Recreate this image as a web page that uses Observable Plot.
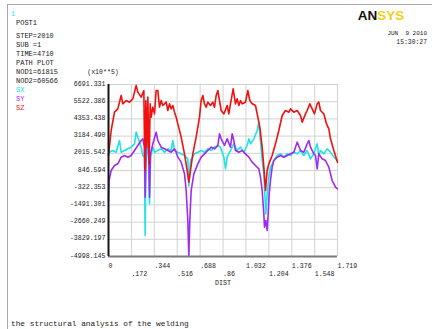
<!DOCTYPE html>
<html>
<head>
<meta charset="utf-8">
<script src="https://cdn.jsdelivr.net/npm/d3@7"></script>
<script src="https://cdn.jsdelivr.net/npm/@observablehq/plot@0.6"></script>
<style>
  html, body { margin: 0; padding: 0; background: #fff; }
  svg text { white-space: pre; }
</style>
</head>
<body>
<div id="chart"></div>
<script>
// Path plot of stresses along the weld path (DIST), in units of 10**5
const xTickLabels = ["0", ".172", ".344", ".516", ".688", ".86", "1.032", "1.204", "1.376", "1.548", "1.719"];
const yTickLabels = ["6691.331", "5522.386", "4353.438", "3184.490", "2015.542", "846.594",
  "-322.353", "-1491.301", "-2660.249", "-3829.197", "-4998.145"];

const infoLines = ["STEP=2010", "SUB =1", "TIME=4710", "PATH PLOT", "NOD1=61815", "NOD2=60566"];
const seriesNames = ["SX", "SY", "SZ"];
const seriesColors = ["#1ee3e6", "#9b2cf2", "#f01010"];

// [DIST, stress] pairs
const SX = [[0,2206],[0.0075,2092],[0.0325,2206],[0.0575,2092],[0.0826,2885],[0.0951,2092],[0.1201,2206],
  [0.1451,2319],[0.1702,2432],[0.1952,2659],[0.2077,3452],[0.2202,3112],[0.2327,2772],[0.2452,2432],
  [0.2577,1866],[0.2702,1753],[0.2752,-3571],[0.2803,1300],[0.2903,2432],[0.3003,1979],[0.3078,-1419],
  [0.3153,1753],[0.3328,2432],[0.3453,2092],[0.3703,2206],[0.3953,2319],[0.4204,2092],[0.4454,2319],
  [0.4704,2206],[0.4829,2885],[0.4954,2206],[0.5205,2092],[0.5455,1979],[0.5705,1866],[0.5955,1639],
  [0.6030,-200],[0.6155,1526],[0.6456,1979],[0.6706,2092],[0.6956,2206],[0.7206,2092],[0.7457,2319],
  [0.7707,2206],[0.7957,2432],[0.8207,2546],[0.8407,2432],[0.8658,1753],[0.8783,960],[0.8908,1753],
  [0.9158,2206],[0.9408,2659],[0.9659,2206],[0.9909,2432],[1.0159,2092],[1.0409,2546],[1.0534,2999],
  [1.0659,2659],[1.0910,2999],[1.1160,3565],[1.1285,4131],[1.1360,3338],[1.1535,1526],[1.1660,620],
  [1.1735,-740],[1.1810,-2099],[1.1911,-740],[1.2036,393],[1.2161,1073],[1.2411,1526],[1.2661,1866],
  [1.2911,1979],[1.3162,1753],[1.3412,1979],[1.3662,1866],[1.3912,2092],[1.4162,1979],[1.4413,2206],
  [1.4663,1866],[1.4913,2206],[1.5163,1639],[1.5413,1979],[1.5663,2659],[1.5789,1866],[1.5914,2206],
  [1.6164,1979],[1.6414,2319],[1.6664,2092],[1.6915,1753],[1.719,1526]];

const SY = [[0,-1192],[0.004,167],[0.0200,846],[0.0450,1186],[0.0701,1300],[0.0951,1753],[0.1201,1866],
  [0.1451,1753],[0.1702,1866],[0.1952,2206],[0.2202,2546],[0.2452,2885],[0.2577,2999],[0.2702,2432],
  [0.2752,-966],[0.2828,2659],[0.2953,3338],[0.3028,1526],[0.3078,-966],[0.3153,1979],[0.3328,2659],
  [0.3578,3452],[0.3703,2885],[0.3953,2432],[0.4204,2319],[0.4454,2206],[0.4704,2092],[0.4954,2319],
  [0.5079,2092],[0.5205,1753],[0.5455,1413],[0.5705,620],[0.5830,-513],[0.5955,-2552],[0.6030,-4998],
  [0.6105,-2552],[0.6205,-513],[0.6406,620],[0.6706,1300],[0.6956,1753],[0.7206,1979],[0.7457,2206],
  [0.7707,2432],[0.7957,2319],[0.8207,2546],[0.8332,3338],[0.8457,2999],[0.8707,2546],[0.8908,2999],
  [0.9158,2432],[0.9283,3338],[0.9408,2885],[0.9533,2206],[0.9784,2092],[1.0034,2206],[1.0284,1979],
  [1.0534,1753],[1.0785,1413],[1.1035,1186],[1.1285,960],[1.1410,393],[1.1535,-513],[1.1660,-2099],
  [1.1710,-3005],[1.1810,-2552],[1.1911,-3231],[1.1986,-2099],[1.2061,-740],[1.2161,167],[1.2286,1073],
  [1.2411,1526],[1.2661,1753],[1.2911,1866],[1.3162,1753],[1.3412,1866],[1.3662,1979],[1.3912,2092],
  [1.4162,2772],[1.4413,2206],[1.4663,2092],[1.4913,2659],[1.5038,2885],[1.5163,2432],[1.5413,1979],
  [1.5538,1866],[1.5663,960],[1.5789,1979],[1.6039,1639],[1.6289,1526],[1.6539,1073],[1.6789,167],
  [1.7040,-286],[1.719,-400]];

const SZ = [[0,1866],[0.0200,3565],[0.0450,4811],[0.0701,5037],[0.0951,5944],[0.1076,5377],[0.1326,5604],
  [0.1576,5491],[0.1827,5717],[0.2077,6623],[0.2202,6170],[0.2452,5831],[0.2652,6284],[0.2727,846],
  [0.2803,5604],[0.2878,2432],[0.2953,5831],[0.3053,1300],[0.3128,5377],[0.3203,4471],[0.3328,5151],
  [0.3453,4698],[0.3578,6284],[0.3703,6284],[0.3828,5151],[0.3953,5604],[0.4079,5264],[0.4204,5377],
  [0.4329,5491],[0.4454,4924],[0.4579,5377],[0.4704,5037],[0.4829,5264],[0.4954,4811],[0.5079,4471],
  [0.5205,4018],[0.5455,3112],[0.5705,1979],[0.5905,846],[0.6030,53],[0.6155,846],[0.6331,1979],
  [0.6581,3112],[0.6831,4471],[0.6956,5604],[0.7081,5944],[0.7206,5377],[0.7331,5151],[0.7457,5491],
  [0.7657,5264],[0.7832,5491],[0.7957,5151],[0.8082,5944],[0.8207,6284],[0.8332,5604],[0.8457,4924],
  [0.8658,4698],[0.8908,5264],[0.9033,4698],[0.9158,5377],[0.9358,6397],[0.9533,5377],[0.9659,5717],
  [0.9784,5264],[0.9909,5604],[1.0034,5377],[1.0284,5491],[1.0459,6284],[1.0609,5604],[1.0785,5377],
  [1.1035,5264],[1.1160,4698],[1.1360,3792],[1.1535,2432],[1.1660,1073],[1.1785,-513],[1.1911,846],
  [1.2036,1300],[1.2286,1866],[1.2536,2659],[1.2786,3565],[1.3037,4584],[1.3287,4924],[1.3537,4811],
  [1.3662,5037],[1.3912,4811],[1.4162,4924],[1.4413,4584],[1.4538,4131],[1.4788,4698],[1.4913,4924],
  [1.5113,5377],[1.5288,5037],[1.5463,4698],[1.5663,5377],[1.5789,5491],[1.5914,4924],[1.6164,4698],
  [1.6364,4018],[1.6539,3678],[1.6664,3000],[1.6915,2206],[1.719,1413]];

const xTicks = xTickLabels.map(Number);
const yTicks = yTickLabels.map(Number);
const yMin = yTicks[yTicks.length - 1];
const font = "Liberation Mono, DejaVu Sans Mono, monospace";
const ink = "#222";
const lineOpts = (color) => ({x: d => d[0], y: d => d[1], stroke: color, strokeWidth: 1.6, strokeLinejoin: "round"});

const chart = Plot.plot({
  width: 432,
  height: 329,
  marginLeft: 108,
  marginRight: 95,
  marginTop: 84,
  marginBottom: 73,
  x: {domain: [0, 1.719], axis: null},
  y: {domain: [yMin, yTicks[0]], axis: null},
  style: {fontFamily: font, background: "#fff", color: ink},
  marks: [
    Plot.ruleX(xTicks, {stroke: "#d2d2d2", strokeWidth: 1}),
    Plot.ruleY(yTicks, {stroke: "#d2d2d2", strokeWidth: 1}),
    Plot.line(SX, lineOpts(seriesColors[0])),
    Plot.line(SY, lineOpts(seriesColors[1])),
    Plot.line(SZ, lineOpts(seriesColors[2])),
    Plot.ruleY([yMin], {stroke: "#7a7a7a", strokeWidth: 2}),
    Plot.ruleX([0], {stroke: "#151515", strokeWidth: 2}),
    Plot.text(yTickLabels, {x: 0, y: d => +d, text: d => d, textAnchor: "end", dx: -3, dy: -1,
      fontSize: 6.6, fill: ink}),
    Plot.text(xTickLabels.filter((_, i) => i % 2 === 0), {x: d => +d, y: yMin, text: d => d,
      textAnchor: "start", dx: 0, dy: 9, fontSize: 6.6, fill: ink}),
    Plot.text(xTickLabels.filter((_, i) => i % 2 === 1), {x: d => +d, y: yMin, text: d => d,
      textAnchor: "start", dx: 0, dy: 17.7, fontSize: 6.6, fill: ink}),
    Plot.text(["DIST"], {x: 1.719 / 2, y: yMin, text: d => d, dy: 26.3, fontSize: 6.6, fill: ink})
  ]
});

document.getElementById("chart").appendChild(chart);

// Annotation layer: window frame, info block, legend, logo, date and title
const svg = d3.select(chart);
svg.append("line").attr("x1", 7.5).attr("x2", 7.5).attr("y1", 4).attr("y2", 329)
  .attr("stroke", "#a8a8a8").attr("stroke-width", 1);
svg.append("line").attr("x1", 7).attr("x2", 432).attr("y1", 4.5).attr("y2", 4.5)
  .attr("stroke", "#a8a8a8").attr("stroke-width", 1);

const txt = (x, y, s, opts = {}) => svg.append("text")
  .attr("x", x).attr("y", y)
  .attr("dominant-baseline", "middle")
  .attr("text-anchor", opts.anchor || "start")
  .attr("font-family", opts.family || font)
  .attr("font-size", opts.size || 7)
  .attr("font-weight", opts.weight || "normal")
  .attr("fill", opts.fill || ink)
  .text(s);

txt(11, 14, "1", {fill: "#1ee3e6", size: 7});
txt(16, 23.5, "POST1");
infoLines.forEach((s, i) => txt(16, 36 + i * 9, s));
seriesNames.forEach((s, i) => txt(16, 90 + i * 9, s, {fill: seriesColors[i]}));
txt(103, 71.8, "(x10**5)", {anchor: "middle", size: 6.6});

// logo
const logo = svg.append("text").attr("x", 381).attr("y", 16).attr("dominant-baseline", "middle")
  .attr("font-family", "Liberation Sans, Arial, sans-serif").attr("font-size", 13.5).attr("font-weight", "bold");
logo.append("tspan").attr("fill", "#111").text("AN");
logo.append("tspan").attr("fill", "#f3cf1a").text("SYS");

txt(427, 33.3, "JUN  9 2010", {anchor: "end", size: 6});
txt(427, 42.5, "15:30:27", {anchor: "end", size: 6.4});

txt(11, 324, "the structural analysis of the welding", {size: 7.8});
</script>
</body>
</html>
